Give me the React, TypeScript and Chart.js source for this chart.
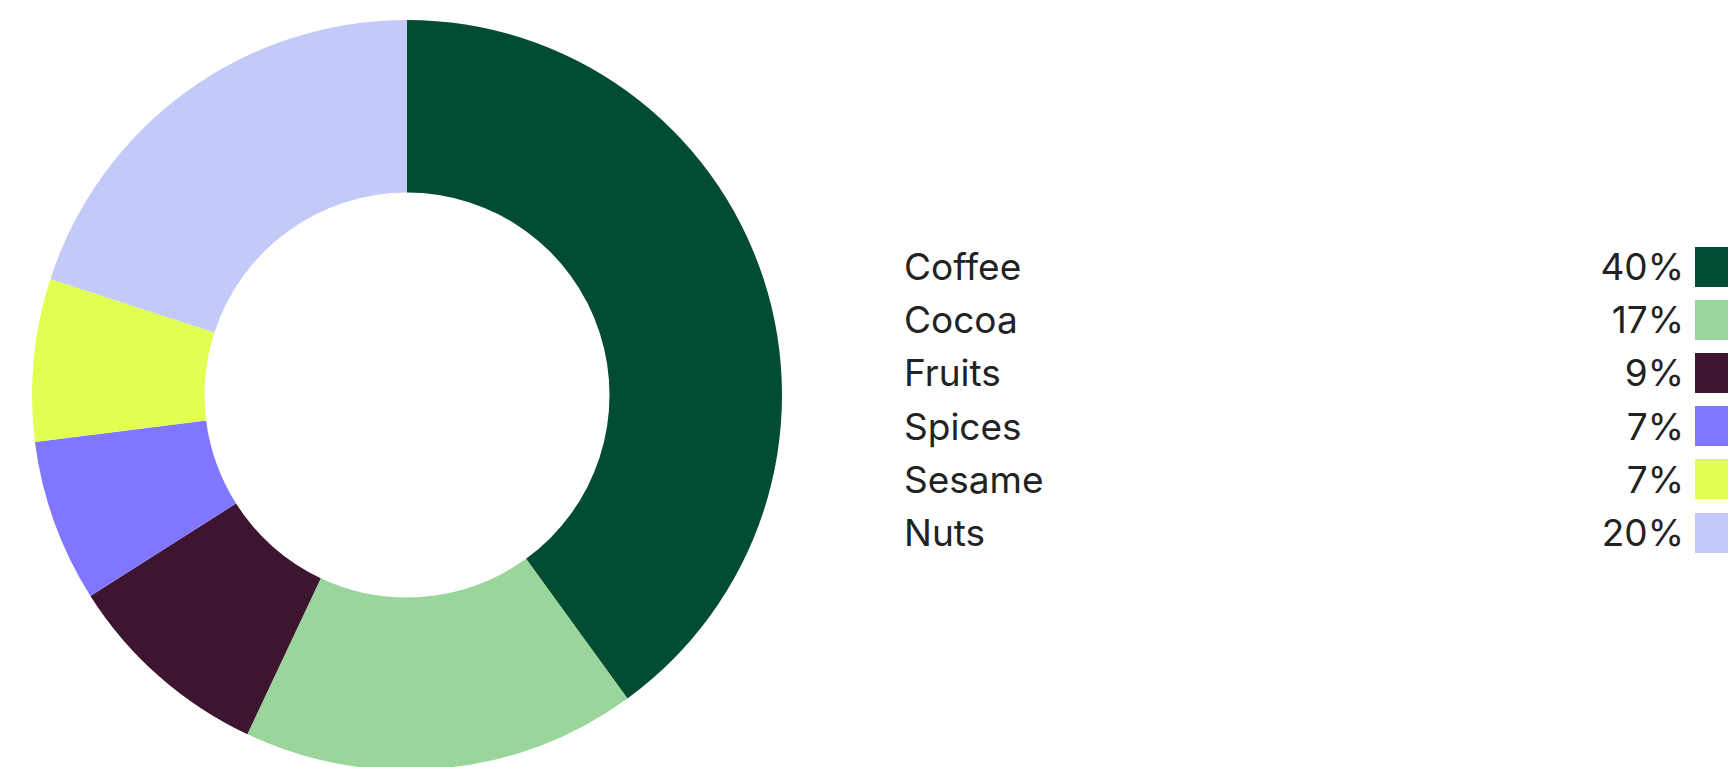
import React, { useEffect, useRef } from "react";
import { Chart, registerables } from "chart.js";

Chart.register(...registerables);

const categories = ["Coffee", "Cocoa", "Fruits", "Spices", "Sesame", "Nuts"];
const shares = [40, 17, 9, 7, 7, 20];
const colors = ["#024d32", "#9ad59b", "#3d1530", "#8176ff", "#e1ff52", "#c3caf9"];

export default function App() {
  const ref = useRef<HTMLCanvasElement | null>(null);

  useEffect(() => {
    if (!ref.current) return;
    const chart = new Chart(ref.current, {
      type: "doughnut",
      data: {
        labels: categories,
        datasets: [
          {
            data: shares,
            backgroundColor: colors,
            borderColor: "#ffffff",
            borderWidth: 0,
            hoverOffset: 0,
          },
        ],
      },
      options: {
        responsive: false,
        animation: false,
        cutout: "54%",
        plugins: { legend: { display: false }, tooltip: { enabled: false } },
        layout: { padding: 0 },
      },
    });
    return () => chart.destroy();
  }, []);

  return (
    <div style={{ position: "relative", width: 1720, height: 770, fontFamily: "Inter, sans-serif" }}>
      <canvas
        ref={ref}
        width={750}
        height={750}
        style={{ position: "absolute", left: 24, top: 12, width: 750, height: 750 }}
      />
      <div style={{ position: "absolute", left: 896, top: 232, width: 832 }}>
        {categories.map((c, i) => (
          <div
            key={c}
            style={{
              display: "flex",
              alignItems: "center",
              height: 53.2,
              lineHeight: "53.2px",
              fontSize: 37,
              color: "#222222",
            }}
          >
            <span style={{ flex: "1 1 auto" }}>{c}</span>
            <span style={{ flex: "0 0 auto", textAlign: "right", marginRight: 11 }}>{shares[i]}%</span>
            <span
              style={{ flex: "0 0 41px", width: 41, height: 40, background: colors[i], display: "block" }}
            />
          </div>
        ))}
      </div>
    </div>
  );
}
